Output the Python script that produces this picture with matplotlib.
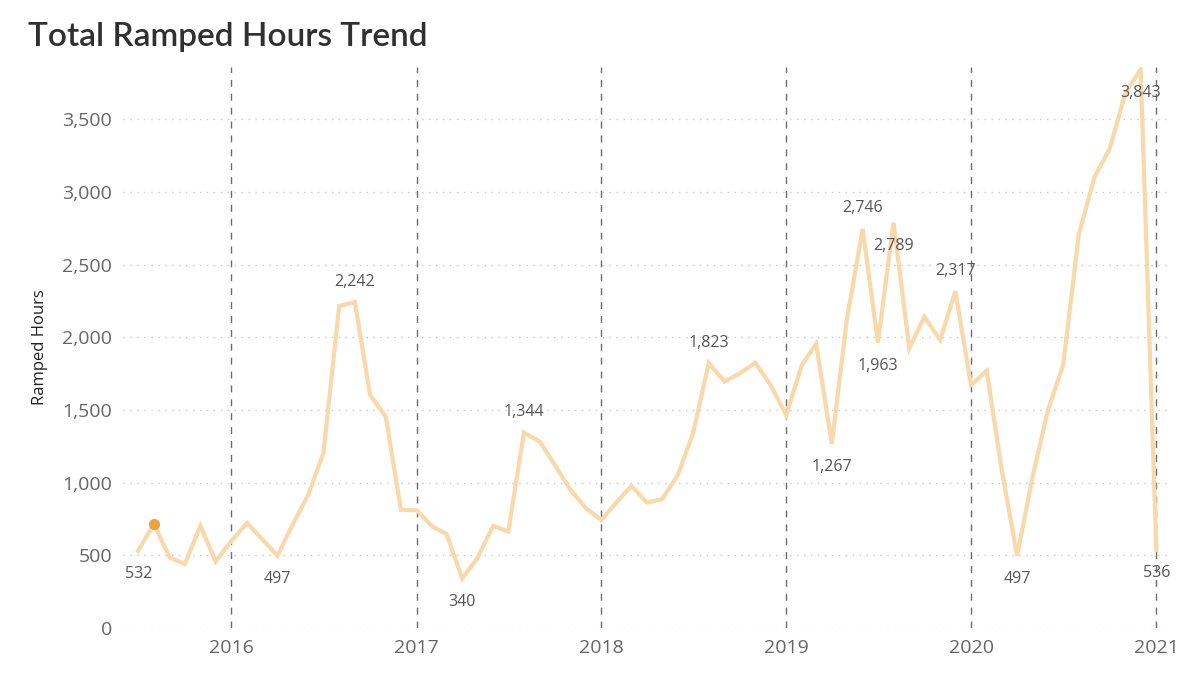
import datetime as dt
import matplotlib
matplotlib.use("Agg")
import matplotlib.pyplot as plt
import matplotlib.dates as mdates
from matplotlib.ticker import FuncFormatter

# monthly totals, Jul 2015 .. Jan 2021
months = [dt.date(2015 + (6 + i) // 12, (6 + i) % 12 + 1, 1) for i in range(67)]
hours = [
    532, 717, 485, 440, 703, 458,
    598, 722, 615, 497, 712, 916, 1207, 2215, 2242, 1603, 1454, 813,
    810, 698, 648, 340, 481, 703, 664, 1344, 1283, 1122, 950, 825,
    744, 870, 978, 863, 886, 1054, 1340, 1823, 1695, 1752, 1825, 1672,
    1466, 1810, 1955, 1267, 2130, 2746, 1963, 2789, 1924, 2142, 1982, 2317,
    1672, 1770, 1100, 497, 1030, 1500, 1810, 2710, 3104, 3299, 3680, 3843,
    536,
]
# index of labelled point -> 'up' / 'down'
labelled = {0: 'down', 9: 'down', 14: 'up', 21: 'down', 25: 'up', 37: 'up',
            45: 'down', 47: 'up', 48: 'down', 49: 'down', 53: 'up',
            57: 'down', 65: 'down', 66: 'down'}
highlight = 1
years = [2016, 2017, 2018, 2019, 2020, 2021]

plt.rcParams['font.family'] = ['Open Sans', 'DejaVu Sans']

fig = plt.figure(figsize=(12, 6.8), dpi=100)
ax = fig.add_axes([0.1025, 0.0765, 0.8725, 0.825])

ax.plot(months, hours, color='#F9D8AA', lw=3, solid_joinstyle='miter', zorder=3)
ax.plot([months[highlight]], [hours[highlight]], 'o', color='#F2A13A', ms=7, zorder=4)

for i, pos in labelled.items():
    dy = 9 if pos == 'up' else -11
    va = 'bottom' if pos == 'up' else 'top'
    ax.annotate(f"{hours[i]:,}", (months[i], hours[i]), xytext=(0, dy),
                textcoords='offset points', ha='center', va=va,
                fontsize=11.5, color='#555555', zorder=5)

for y in years:
    ax.axvline(dt.date(y, 1, 1), color='#6b6b6b', lw=1, ls=(0, (5, 5)), zorder=2)

ax.set_xlim(dt.date(2015, 6, 1), dt.date(2021, 1, 28))
ax.set_ylim(0, 3860)
ax.set_yticks(range(0, 4000, 500))
ax.yaxis.set_major_formatter(FuncFormatter(lambda v, p: f"{int(v):,}"))
ax.set_xticks([dt.date(y, 1, 1) for y in years])
ax.xaxis.set_major_formatter(mdates.DateFormatter('%Y'))
ax.grid(axis='y', color='#c8c8c8', ls=(0, (1, 4)), lw=1)
ax.tick_params(length=0, labelsize=14, labelcolor='#666666', pad=8)
for s in ax.spines.values():
    s.set_visible(False)

ax.set_ylabel('Ramped Hours', fontsize=12, color='#222222', labelpad=10)
fig.text(0.023, 0.945, 'Total Ramped Hours Trend', fontsize=24, color='#303030',
         va='center', ha='left', weight='semibold', family=['Lato', 'DejaVu Sans'])

fig.savefig('out.png', dpi=100)
